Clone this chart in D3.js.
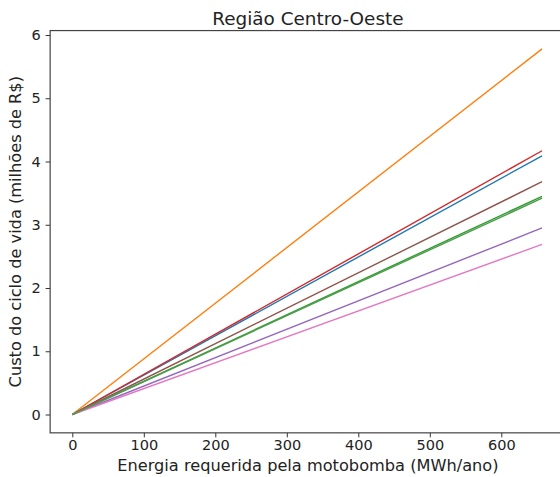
<!DOCTYPE html>
<html>
<head>
<meta charset="utf-8">
<script src="https://cdn.jsdelivr.net/npm/d3@7"></script>
<style>
  body { margin: 0; background: #fff; }
  text { font-family: "DejaVu Sans", sans-serif; fill: #222; }
</style>
</head>
<body>
<div id="vis"></div>
<script>
// data: every line runs from 0 to the max energy
const energy = [0, 657];
const seriesNames = ['C0', 'C1', 'C2', 'C3', 'C4', 'C5', 'C6', 'C7'];
const endCost = [4.09, 5.78, 3.45, 4.17, 2.95, 3.68, 2.69, 3.42];
const lineColors = ['#1f77b4', '#ff7f0e', '#2ca02c', '#d62728', '#9467bd', '#8c564b', '#e377c2', '#4f9a4f'];
const xTicks = [0, 100, 200, 300, 400, 500, 600];
const yTicks = [0, 1, 2, 3, 4, 5, 6];

const W = 560, H = 477;

const svg = d3.select('#vis')
    .append('svg')
    .attr('width', W)
    .attr('height', H);

// scales (pixel spots picked from the tick positions)
const xScale = d3.scaleLinear()
    .domain([0, 600])
    .range([72.3, 501.3]);

const yScale = d3.scaleLinear()
    .domain([0, 6])
    .range([414.5, 35]);

const xMin = -31, xMax = 690;
const yMin = -0.29, yMax = 6.07;

// lines
const line = d3.line()
    .x(d => xScale(d[0]))
    .y(d => yScale(d[1]));

const series = seriesNames.map((name, i) => ({
    name: name,
    color: lineColors[i],
    points: energy.map(e => [e, e / energy[1] * endCost[i]])
}));

svg.selectAll('.series')
    .data(series)
    .join('path')
    .attr('class', 'series')
    .attr('d', d => line(d.points))
    .attr('fill', 'none')
    .attr('stroke', d => d.color)
    .attr('stroke-width', 1.4);

// axes
const xAxis = d3.axisBottom(xScale).tickValues(xTicks).tickSize(4.5).tickPadding(2.5).tickFormat(d3.format('d'));
const yAxis = d3.axisLeft(yScale).tickValues(yTicks).tickSize(4.5).tickPadding(5).tickFormat(d3.format('d'));

const gx = svg.append('g')
    .attr('transform', `translate(0,${yScale(yMin)})`)
    .call(xAxis);
const gy = svg.append('g')
    .attr('transform', `translate(${xScale(xMin)},0)`)
    .call(yAxis);

[gx, gy].forEach(g => {
    g.select('.domain').remove();
    g.selectAll('.tick line').attr('stroke', '#333').attr('stroke-width', 1);
    g.selectAll('.tick text')
        .style('font-size', '14.5px')
        .style('font-family', '"DejaVu Sans", sans-serif')
        .attr('fill', '#222');
});

// spines
svg.append('rect')
    .attr('x', xScale(xMin))
    .attr('y', yScale(yMax))
    .attr('width', xScale(xMax) - xScale(xMin))
    .attr('height', yScale(yMin) - yScale(yMax))
    .attr('fill', 'none')
    .attr('stroke', '#444')
    .attr('stroke-width', 1.2);

const cx = (xScale(xMin) + xScale(xMax)) / 2;

svg.append('text')
    .attr('x', cx)
    .attr('y', 25)
    .attr('text-anchor', 'middle')
    .style('font-size', '18.4px')
    .text('Região Centro-Oeste');

svg.append('text')
    .attr('x', cx)
    .attr('y', 471)
    .attr('text-anchor', 'middle')
    .style('font-size', '16.2px')
    .text('Energia requerida pela motobomba (MWh/ano)');

svg.append('text')
    .attr('transform', `translate(21,${(yScale(yMin) + yScale(yMax)) / 2}) rotate(-90)`)
    .attr('text-anchor', 'middle')
    .style('font-size', '16.2px')
    .text('Custo do ciclo de vida (milhões de R$)');
</script>
</body>
</html>
